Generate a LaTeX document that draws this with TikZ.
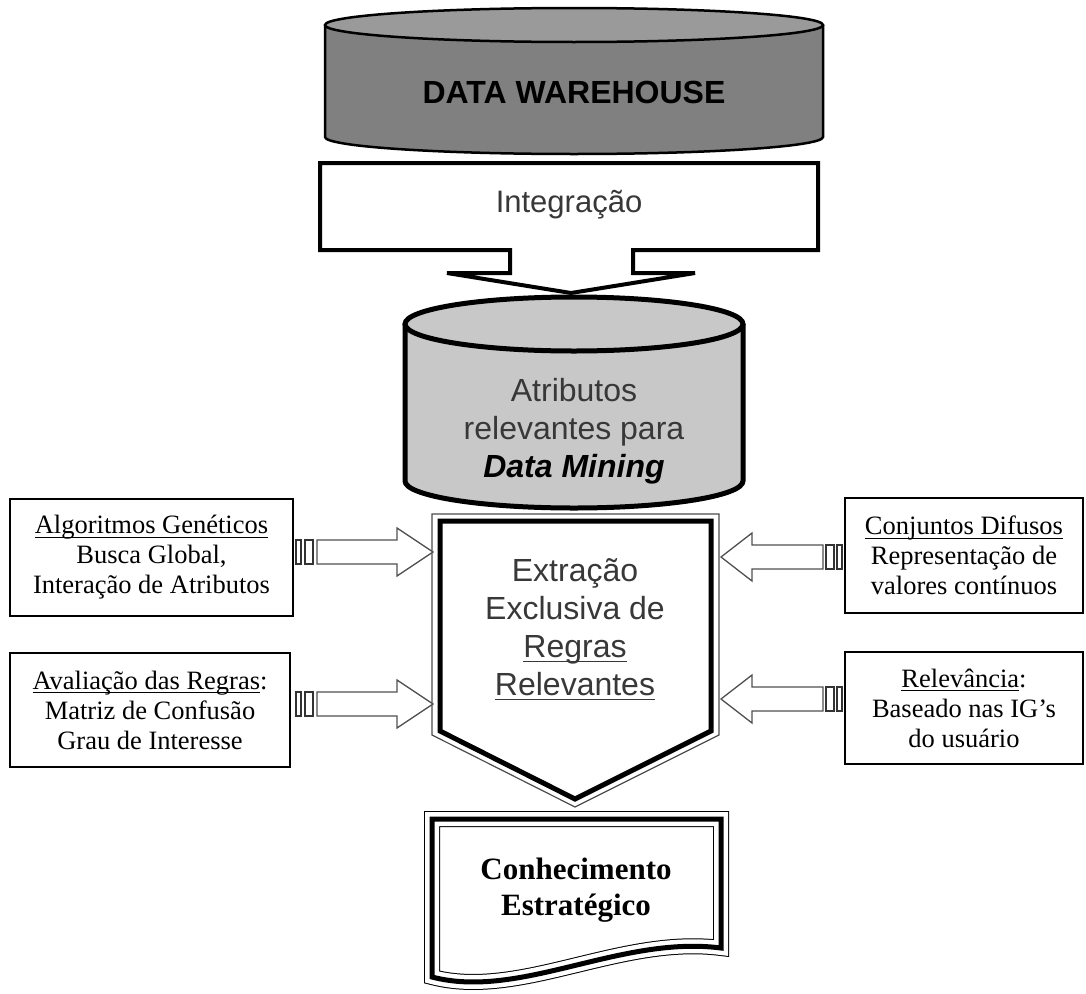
\documentclass[tikz,border=0pt]{standalone}
\usepackage{amsmath}
\usepackage{fontspec}
\setmainfont{Liberation Serif}
\setsansfont{Liberation Sans}
\usepackage{tikz}
\usetikzlibrary{positioning,calc}
\definecolor{WarehouseGray}{HTML}{808080}
\definecolor{WarehouseTop}{HTML}{9A9A9A}
\definecolor{MiningGray}{HTML}{C8C8C8}
\definecolor{TextGray}{HTML}{383838}
\definecolor{ArrowGray}{HTML}{505050}
\newcommand{\wordline}[1]{\underline{\smash[b]{#1}}}

\begin{document}
\begin{tikzpicture}[
  x=1pt,y=-1pt,
  sanslabel/.style={font=\sffamily\fontsize{32}{38}\selectfont,text=TextGray,
                    align=center,inner sep=0pt},
  sidebox/.style={draw=black,line width=1.6pt,fill=white,align=center,inner sep=0pt,
                  font=\fontsize{26.5}{30}\selectfont},
  blockarrow/.style={draw=ArrowGray,line width=1.3pt,fill=white},
  tickbox/.style={draw=black!80,line width=1.2pt,fill=white},
  tripleline/.style={draw=black,line width=16pt,fill=white,
                     postaction={draw=white,line width=14pt},
                     postaction={draw=black,line width=5pt}}
]
\useasboundingbox (0,0) rectangle (1086,993);

% Data warehouse cylinder
\draw[line width=2.5pt,fill=WarehouseGray] (325,25) -- (325,137)
  arc[start angle=180,end angle=0,x radius=249,y radius=17] -- (823,25);
\draw[line width=2.5pt,fill=WarehouseTop] (574,25) ellipse[x radius=249,y radius=17];
\node[font=\sffamily\bfseries\fontsize{32}{38}\selectfont,inner sep=0pt] (warehouse)
  at (574,92) {DATA WAREHOUSE};

% Integration arrow
\draw[line width=4pt,fill=white] (320,163) -- (818,163) -- (818,250) -- (633,250)
  -- (633,273) -- (695,273) -- (571,293) -- (447,273) -- (510,273) -- (510,250)
  -- (320,250) -- cycle;
\node[sanslabel,font=\sffamily\fontsize{31}{38}\selectfont] (integration) at (569,205) {Integração};

% Attribute cylinder
\draw[line width=5pt,fill=MiningGray] (405,324) -- (405,481)
  arc[start angle=180,end angle=0,x radius=169,y radius=27] -- (743,324);
\draw[line width=5pt,fill=MiningGray] (574,324) ellipse[x radius=169,y radius=27];
\node[sanslabel] (attributes) at (574,431)
  {Atributos\\relevantes para\\{\color{black}\bfseries\itshape Data Mining}};

% Rule extraction
\draw[line width=1.2pt,draw=black!70] (432,514) -- (719,514) -- (719,735) -- (575,807)
  -- (432,735) -- cycle;
\draw[line width=5pt,fill=white] (440,521) -- (711,521) -- (711,731) -- (575,799)
  -- (440,731) -- cycle;
\node[sanslabel] (extraction) at (575,630)
  {Extração\\Exclusiva de\\\wordline{Regras}\\\wordline{Relevantes}};

% Strategic knowledge
\draw[tripleline] (432,819) -- (721,819) -- (721,948)
  .. controls (620,935) and (520,1000) .. (432,977) -- cycle;
\node[font=\bfseries\fontsize{31}{36}\selectfont,align=center,inner sep=0pt] (knowledge)
  at (576,890) {Conhecimento\\Estratégico};

% Side boxes
\node[sidebox,minimum width=283pt,minimum height=117pt] (genetic) at (151.5,557.5)
  {\wordline{Algoritmos Genéticos}\\Busca Global,\\Interação de Atributos};
\node[sidebox,minimum width=280pt,minimum height=114pt] (evaluation) at (150,710)
  {\wordline{Avaliação das Regras}:\\Matriz de Confusão\\Grau de Interesse};
\node[sidebox,minimum width=238pt,minimum height=115pt] (fuzzy) at (964,555.5)
  {\wordline{Conjuntos Difusos}\\Representação de\\valores contínuos};
\node[sidebox,minimum width=238pt,minimum height=112pt] (relevance) at (964,708)
  {\wordline{Relevância}:\\Baseado nas IG’s\\do usuário};

% Block arrows into the extraction
\foreach \y in {552,704}{
  \draw[blockarrow] (317,{\y-12}) -- (397,{\y-12}) -- (397,{\y-24}) -- (433,\y)
    -- (397,{\y+24}) -- (397,{\y+12}) -- (317,{\y+12}) -- cycle;
  \draw[tickbox] (296,{\y-12}) rectangle (301,{\y+12});
  \draw[tickbox] (305,{\y-12}) rectangle (313,{\y+12});
}
\foreach \y in {557,699}{
  \draw[blockarrow] (823,{\y-12}) -- (752,{\y-12}) -- (752,{\y-24}) -- (721,\y)
    -- (752,{\y+24}) -- (752,{\y+12}) -- (823,{\y+12}) -- cycle;
  \draw[tickbox] (826,{\y-12}) rectangle (834,{\y+12});
  \draw[tickbox] (837,{\y-12}) rectangle (842,{\y+12});
}
\end{tikzpicture}
\end{document}
